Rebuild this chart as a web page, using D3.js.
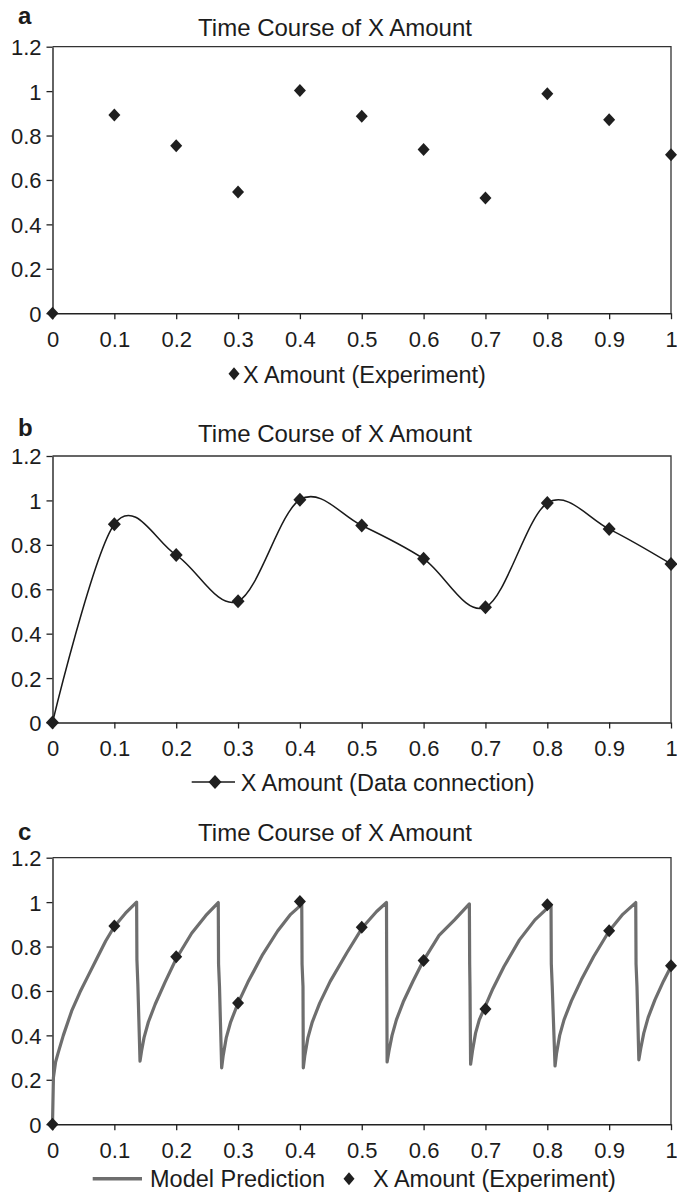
<!DOCTYPE html>
<html>
<head>
<meta charset="utf-8">
<script src="https://cdn.jsdelivr.net/npm/d3@7"></script>
<style>
  body { margin: 0; background: #fff; }
  svg text { font-family: "Liberation Sans", Arial, Helvetica, sans-serif; fill: #1c1c1c; }
</style>
</head>
<body>
<svg id="chart"></svg>
<script>
// experiment data (same in all three panels)
const times = [0, 0.1, 0.2, 0.3, 0.4, 0.5, 0.6, 0.7, 0.8, 0.9, 1];
const xAmount = [0, 0.893, 0.754, 0.546, 1.003, 0.887, 0.737, 0.519, 0.988, 0.871, 0.714];

const xTicks = [0, 0.1, 0.2, 0.3, 0.4, 0.5, 0.6, 0.7, 0.8, 0.9, 1];
const yTicks = [0, 0.2, 0.4, 0.6, 0.8, 1, 1.2];

const panelLetters = ["a", "b", "c"];
const panelTitle = "Time Course of X Amount";
const legendExperiment = "X Amount (Experiment)";
const legendConnection = "X Amount (Data connection)";
const legendModel = "Model Prediction";

// model prediction, [time, amount]
const modelPoints = [
  [0, 0], [0.0015, 0.21], [0.005, 0.28], [0.009, 0.32], [0.0175, 0.40], [0.031, 0.51], [0.0445, 0.595],
  [0.058, 0.67], [0.0715, 0.745], [0.086, 0.825], [0.1, 0.89], [0.118, 0.95], [0.136, 1.0],
  [0.1365, 0.74], [0.138, 0.63], [0.1415, 0.284],
  [0.144, 0.33], [0.148, 0.39], [0.155, 0.46], [0.166, 0.54], [0.182, 0.64], [0.2, 0.745],
  [0.225, 0.86], [0.248, 0.94], [0.268, 0.998],
  [0.2685, 0.72], [0.27, 0.62], [0.2735, 0.254],
  [0.276, 0.31], [0.281, 0.39], [0.288, 0.46], [0.3, 0.545], [0.316, 0.64], [0.34, 0.765],
  [0.364, 0.87], [0.385, 0.945], [0.403, 0.99],
  [0.4035, 0.72], [0.405, 0.62], [0.4055, 0.254],
  [0.408, 0.31], [0.413, 0.39], [0.42, 0.46], [0.432, 0.545], [0.449, 0.643], [0.4757, 0.771],
  [0.5015, 0.887], [0.524, 0.958], [0.54, 0.998],
  [0.5403, 0.72], [0.5405, 0.62], [0.541, 0.28],
  [0.544, 0.33], [0.549, 0.40], [0.556, 0.47], [0.567, 0.55], [0.583, 0.645], [0.6, 0.738],
  [0.625, 0.85], [0.65, 0.92], [0.674, 0.992],
  [0.6745, 0.72], [0.675, 0.62], [0.676, 0.27],
  [0.679, 0.33], [0.684, 0.41], [0.69, 0.47], [0.698, 0.52], [0.712, 0.61], [0.73, 0.71],
  [0.755, 0.83], [0.78, 0.92], [0.806, 0.988],
  [0.8065, 0.72], [0.808, 0.62], [0.8125, 0.262],
  [0.815, 0.32], [0.82, 0.40], [0.827, 0.47], [0.839, 0.555], [0.855, 0.65], [0.875, 0.755],
  [0.9, 0.87], [0.922, 0.945], [0.943, 0.998],
  [0.9435, 0.72], [0.945, 0.62], [0.948, 0.29],
  [0.951, 0.34], [0.956, 0.41], [0.963, 0.48], [0.974, 0.56], [0.988, 0.645], [1.0, 0.71]
];

const svg_width = 677, svg_height = 1197;
const left = 52.5, right = 671;
const plotH = 266.5;
const panelTops = [46.7, 456, 857.7];

const svg = d3.select("#chart")
    .attr("width", svg_width)
    .attr("height", svg_height);

const x = d3.scaleLinear().domain([0, 1]).range([left, right]);

const diamond = (hw, hh) => `M0,${-hh}L${hw},0L0,${hh}L${-hw},0Z`;
const expData = times.map((t, i) => ({ t: t, v: xAmount[i] }));

function drawPanel(idx) {
    const top = panelTops[idx];
    const bottom = top + plotH;
    const y = d3.scaleLinear().domain([0, 1.2]).range([bottom, top]);
    const g = svg.append("g");

    // frame (top + right)
    g.append("path")
        .attr("d", `M${left},${top}H${right}V${bottom}`)
        .attr("fill", "none")
        .attr("stroke", "#333")
        .attr("stroke-width", 1.3);

    const xAxis = g.append("g")
        .attr("transform", `translate(0,${bottom})`)
        .call(d3.axisBottom(x).tickValues(xTicks).tickFormat(d => String(d))
            .tickSize(6).tickSizeOuter(0).tickPadding(12));
    const yAxis = g.append("g")
        .attr("transform", `translate(${left},0)`)
        .call(d3.axisLeft(y).tickValues(yTicks).tickFormat(d => String(d))
            .tickSize(6).tickSizeOuter(0).tickPadding(5));
    [xAxis, yAxis].forEach(a => {
        a.select(".domain").attr("stroke", "#222").attr("stroke-width", 1.4);
        a.selectAll(".tick line").attr("stroke", "#222").attr("stroke-width", 1.3);
        a.selectAll(".tick text").attr("font-size", 22).attr("fill", "#1c1c1c")
            .style("font-family", '"Liberation Sans", Arial, sans-serif');
    });
    yAxis.selectAll(".tick text").attr("dy", "0.36em");

    // title and panel letter
    g.append("text")
        .attr("x", 335)
        .attr("y", [36, 441.7, 840.7][idx])
        .attr("text-anchor", "middle")
        .attr("font-size", 24)
        .text(panelTitle);
    g.append("text")
        .attr("x", 18)
        .attr("y", [24, 436, 840][idx])
        .attr("font-size", 24)
        .attr("font-weight", "bold")
        .text(panelLetters[idx]);

    if (idx === 1) {
        const line = d3.line()
            .x(d => x(d.t))
            .y(d => y(d.v))
            .curve(d3.curveCardinal.tension(0));
        g.append("path")
            .datum(expData)
            .attr("d", line)
            .attr("fill", "none")
            .attr("stroke", "#1a1a1a")
            .attr("stroke-width", 1.5);
    }
    if (idx === 2) {
        const line = d3.line()
            .x(d => x(d[0]))
            .y(d => y(d[1]));
        g.append("path")
            .datum(modelPoints)
            .attr("d", line)
            .attr("fill", "none")
            .attr("stroke", "#6e6e6e")
            .attr("stroke-width", 3.2)
            .attr("stroke-linejoin", "round");
    }

    g.selectAll(".pt")
        .data(expData)
        .join("path")
        .attr("class", "pt")
        .attr("transform", d => `translate(${x(d.t)},${y(d.v)})`)
        .attr("d", idx === 1 ? diamond(6.5, 7) : diamond(6, 6.5))
        .attr("fill", "#1f1f1f");

    // legends
    const lg = g.append("g").attr("font-size", 23.5);
    if (idx === 0) {
        lg.append("path").attr("transform", `translate(234,${bottom + 60.5})`)
            .attr("d", diamond(5.5, 6.5)).attr("fill", "#1f1f1f");
        lg.append("text").attr("x", 243).attr("y", bottom + 69.5).text(legendExperiment);
    } else if (idx === 1) {
        const ly = bottom + 59.5;
        lg.append("line").attr("x1", 191.7).attr("x2", 235).attr("y1", ly).attr("y2", ly)
            .attr("stroke", "#1a1a1a").attr("stroke-width", 1.5);
        lg.append("path").attr("transform", `translate(215,${ly})`)
            .attr("d", diamond(6.5, 7)).attr("fill", "#1f1f1f");
        lg.append("text").attr("x", 240.7).attr("y", bottom + 68.7).text(legendConnection);
    } else {
        const ly = bottom + 54.5;
        lg.append("line").attr("x1", 92.7).attr("x2", 142).attr("y1", ly).attr("y2", ly)
            .attr("stroke", "#6e6e6e").attr("stroke-width", 3.5);
        lg.append("text").attr("x", 150).attr("y", bottom + 63).text(legendModel);
        lg.append("path").attr("transform", `translate(349,${ly})`)
            .attr("d", diamond(5.5, 6.5)).attr("fill", "#1f1f1f");
        lg.append("text").attr("x", 373).attr("y", bottom + 63).text(legendExperiment);
    }
}

[0, 1, 2].forEach(drawPanel);
</script>
</body>
</html>
